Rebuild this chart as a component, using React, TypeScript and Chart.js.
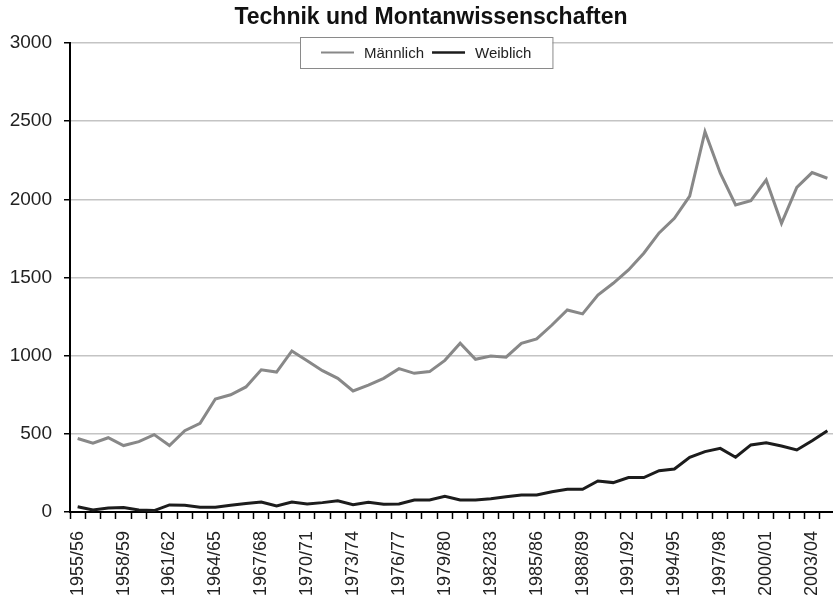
import React, { useEffect, useRef } from 'react';
import { Chart, registerables } from 'chart.js';

Chart.register(...registerables);

const TITLE = 'Technik und Montanwissenschaften';

const years = [
  '1955/56', '1956/57', '1957/58', '1958/59', '1959/60', '1960/61', '1961/62', '1962/63', '1963/64', '1964/65',
  '1965/66', '1966/67', '1967/68', '1968/69', '1969/70', '1970/71', '1971/72', '1972/73', '1973/74', '1974/75',
  '1975/76', '1976/77', '1977/78', '1978/79', '1979/80', '1980/81', '1981/82', '1982/83', '1983/84', '1984/85',
  '1985/86', '1986/87', '1987/88', '1988/89', '1989/90', '1990/91', '1991/92', '1992/93', '1993/94', '1994/95',
  '1995/96', '1996/97', '1997/98', '1998/99', '1999/00', '2000/01', '2001/02', '2002/03', '2003/04', '2004/05',
];

const maleValues = [
  470, 440, 475, 425, 450, 495, 425, 520, 567, 723,
  750, 800, 910, 895, 1030, 968, 904, 855, 774, 812,
  855, 917, 887, 898, 970, 1079, 977, 998, 990, 1079,
  1107, 1196, 1292, 1267, 1388, 1463, 1548, 1655, 1785, 1879,
  2021, 2433, 2167, 1964, 1991, 2124, 1847, 2077, 2171, 2135,
];

const femaleValues = [
  34, 13, 26, 28, 13, 9, 45, 43, 30, 30,
  43, 55, 64, 38, 64, 51, 60, 72, 47, 62,
  49, 51, 77, 77, 100, 77, 77, 85, 98, 109,
  109, 130, 145, 145, 198, 188, 220, 220, 264, 275,
  350, 386, 407, 350, 429, 443, 422, 397, 456, 520,
];

const seriesNames = ['Männlich', 'Weiblich'];
const seriesColors = ['#888888', '#1c1c1c'];

const yMin = 0;
const yMax = 3000;
const yStep = 500;
const labelEvery = 3;

const FONT = "'Liberation Sans', Arial, sans-serif";

const titlePlugin = {
  id: 'ownTitle',
  afterDraw(chart: any) {
    const ctx = chart.ctx as CanvasRenderingContext2D;
    ctx.save();
    ctx.font = `bold 23px ${FONT}`;
    ctx.fillStyle = '#111';
    ctx.textAlign = 'center';
    ctx.textBaseline = 'middle';
    ctx.fillText(TITLE, 431, 18);
    ctx.restore();
  },
};

const boxLegend = {
  id: 'boxLegend',
  afterDraw(chart: any) {
    const ctx = chart.ctx as CanvasRenderingContext2D;
    const area = chart.chartArea;
    const ds = chart.data.datasets;
    ctx.save();
    ctx.font = `15px ${FONT}`;
    const sample = 33;
    const gap1 = 10;
    const gap2 = 8;
    const padX = 21;
    let inner = 0;
    ds.forEach((d: any, i: number) => {
      inner += sample + gap1 + ctx.measureText(d.label).width;
      if (i < ds.length - 1) inner += gap2;
    });
    const w = inner + padX * 2;
    const h = 31;
    const cx = 426;
    const x0 = Math.round(cx - w / 2);
    const y0 = area.top - 6;
    ctx.fillStyle = '#ffffff';
    ctx.fillRect(x0, y0, w, h);
    ctx.strokeStyle = '#8a8a8a';
    ctx.lineWidth = 1;
    ctx.strokeRect(x0 + 0.5, y0 + 0.5, w, h);
    let x = x0 + padX;
    const yc = y0 + h / 2;
    ds.forEach((d: any, i: number) => {
      ctx.strokeStyle = d.borderColor;
      ctx.lineWidth = i === 0 ? 2 : 2.5;
      ctx.beginPath();
      ctx.moveTo(x, yc);
      ctx.lineTo(x + sample, yc);
      ctx.stroke();
      x += sample + gap1;
      ctx.fillStyle = '#222';
      ctx.textBaseline = 'middle';
      ctx.textAlign = 'left';
      ctx.fillText(d.label, x, yc + 1);
      x += ctx.measureText(d.label).width + gap2;
    });
    ctx.restore();
  },
};

export default function App() {
  const ref = useRef<HTMLCanvasElement | null>(null);

  useEffect(() => {
    if (!ref.current) return;
    const chart = new Chart(ref.current, {
      type: 'line',
      data: {
        labels: years,
        datasets: [
          {
            label: seriesNames[0],
            data: maleValues,
            borderColor: seriesColors[0],
            backgroundColor: seriesColors[0],
            borderWidth: 3,
            pointRadius: 0,
            tension: 0,
          },
          {
            label: seriesNames[1],
            data: femaleValues,
            borderColor: seriesColors[1],
            backgroundColor: seriesColors[1],
            borderWidth: 3,
            pointRadius: 0,
            tension: 0,
          },
        ],
      },
      options: {
        responsive: false,
        animation: false,
        events: [],
        layout: { padding: { left: 0, right: 0, top: 43, bottom: 0 } },
        plugins: {
          legend: { display: false },
          tooltip: { enabled: false },
          title: { display: false },
        },
        scales: {
          x: {
            type: 'category',
            offset: true,
            afterFit(scale: any) {
              scale.height = 90;
            },
            border: { display: true, color: '#000', width: 2 },
            grid: {
              offset: true,
              drawOnChartArea: false,
              drawTicks: true,
              tickLength: 7,
              tickColor: '#000',
              tickWidth: 1.5,
            },
            ticks: {
              autoSkip: false,
              minRotation: 90,
              maxRotation: 90,
              padding: 12,
              color: '#222',
              font: { family: FONT, size: 18 },
              callback: (_v: any, i: number) => (i % labelEvery === 0 ? years[i] : ''),
            },
          },
          y: {
            min: yMin,
            max: yMax,
            afterFit(scale: any) {
              scale.width = 70;
            },
            border: { display: true, color: '#000', width: 2 },
            grid: {
              color: '#c4c4c4',
              lineWidth: 1.5,
              drawTicks: true,
              tickLength: 6,
              tickColor: '#000',
              tickWidth: 1.5,
            },
            ticks: {
              stepSize: yStep,
              padding: 12,
              color: '#222',
              font: { family: FONT, size: 19 },
              callback: (v: any) => String(v),
            },
          },
        },
      },
      plugins: [titlePlugin, boxLegend],
    });
    return () => chart.destroy();
  }, []);

  return (
    <div style={{ position: 'fixed', left: 0, top: 0, width: 833, height: 602, overflow: 'hidden', background: '#fff' }}>
      <canvas ref={ref} width={861} height={602} style={{ display: 'block', width: 861, height: 602 }} />
    </div>
  );
}
